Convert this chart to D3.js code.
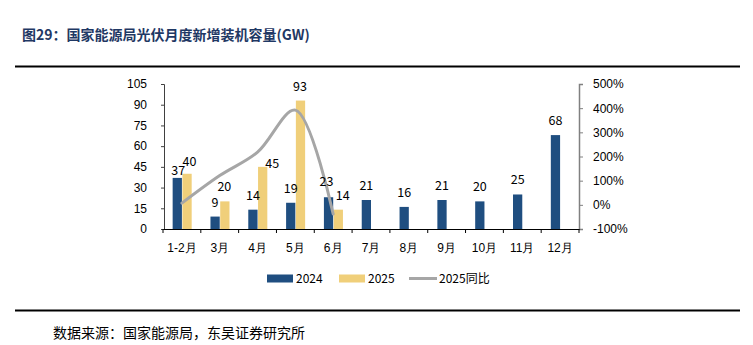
<!DOCTYPE html>
<html>
<head>
<meta charset="utf-8">
<script src="https://cdn.jsdelivr.net/npm/d3@7"></script>
<style>
  body { margin: 0; background: #fff; }
  svg { display: block; font-family: "Noto Sans CJK SC", "Noto Sans", sans-serif; }
</style>
</head>
<body>
<div id="chart"></div>
<script>
// data
const months = ["1-2月", "3月", "4月", "5月", "6月", "7月", "8月", "9月", "10月", "11月", "12月"];
const values2024 = [37, 9, 14, 19, 23, 21, 16, 21, 20, 25, 68];
const values2025 = [40, 20, 45, 93, 14];
const yoy2025 = [7, 121, 218, 392, -38];
const leftTicks = [0, 15, 30, 45, 60, 75, 90, 105];
const rightTicks = [-100, 0, 100, 200, 300, 400, 500];

const width = 753, height = 345;
const blue = "#1f4e80", yellow = "#f0cf7a", grey = "#a6a6a6";

const svg = d3.select("#chart").append("svg")
    .attr("width", width)
    .attr("height", height);

svg.append("rect").attr("width", width).attr("height", height).attr("fill", "#fff");

// title and frame lines
svg.append("text")
    .attr("x", 22).attr("y", 40)
    .attr("font-size", 14).attr("font-weight", "bold")
    .attr("fill", "#1f3864")
    .text("图29：国家能源局光伏月度新增装机容量(GW)");

svg.append("line").attr("x1", 15).attr("x2", 740).attr("y1", 66.5).attr("y2", 66.5)
    .attr("stroke", "#000").attr("stroke-width", 2);
svg.append("line").attr("x1", 15).attr("x2", 740).attr("y1", 310.5).attr("y2", 310.5)
    .attr("stroke", "#000").attr("stroke-width", 2);

svg.append("text")
    .attr("x", 53).attr("y", 338)
    .attr("font-size", 14).attr("fill", "#000")
    .text("数据来源：国家能源局，东吴证券研究所");

// scales
const x = d3.scaleBand().domain(months).range([163, 579]);
const yL = d3.scaleLinear().domain([0, 105]).range([229, 84]);
const yR = d3.scaleLinear().domain([-100, 500]).range([229, 84]);
const bw = x.bandwidth() * 0.245;
const cx = m => x(m) + x.bandwidth() / 2;

// axes
const gLeft = svg.append("g").attr("transform", "translate(164,0)")
    .call(d3.axisLeft(yL).tickValues(leftTicks).tickSize(3).tickPadding(14));
gLeft.select(".domain").attr("stroke", "#404040");
gLeft.selectAll(".tick line").attr("stroke", "#404040");
gLeft.selectAll("text").attr("font-size", 12).attr("fill", "#000").attr("font-family", null);

const gRight = svg.append("g").attr("transform", "translate(579,0)")
    .call(d3.axisRight(yR).tickValues(rightTicks).tickSize(4).tickPadding(10)
        .tickFormat(d => d + "%"));
gRight.select(".domain").attr("stroke", "#808080").attr("stroke-width", 1.5);
gRight.selectAll(".tick line").attr("stroke", "#808080");
gRight.selectAll("text").attr("font-size", 12).attr("fill", "#000").attr("font-family", null);

// bars
const bars = svg.append("g");
bars.selectAll(".b24").data(values2024).join("rect")
    .attr("x", (d, i) => cx(months[i]) - bw)
    .attr("y", d => yL(d))
    .attr("width", bw)
    .attr("height", d => yL(0) - yL(d))
    .attr("fill", blue);
bars.selectAll(".b25").data(values2025).join("rect")
    .attr("x", (d, i) => cx(months[i]) + 0.5)
    .attr("y", d => yL(d))
    .attr("width", bw)
    .attr("height", d => yL(0) - yL(d))
    .attr("fill", yellow);

// bottom axis drawn over bars
const gBottom = svg.append("g").attr("transform", "translate(0,229)")
    .call(d3.axisBottom(x).tickSize(0).tickPadding(14));
gBottom.select(".domain").attr("stroke", "#000");
gBottom.selectAll("text").attr("font-size", 12).attr("fill", "#000").attr("font-family", null);
gBottom.selectAll(".sep").data(d3.range(months.length + 1)).join("line")
    .attr("x1", i => 163 + i * x.step()).attr("x2", i => 163 + i * x.step())
    .attr("y1", 0).attr("y2", 4)
    .attr("stroke", "#000");

// YoY line
const line = d3.line()
    .x((d, i) => cx(months[i]))
    .y(d => yR(d))
    .curve(d3.curveCatmullRom.alpha(0.5));
svg.append("path")
    .datum(yoy2025)
    .attr("fill", "none")
    .attr("stroke", grey)
    .attr("stroke-width", 3)
    .attr("stroke-linecap", "round")
    .attr("d", line);

// value labels (a few moved as in the original)
const nudge = { "a0": [1, 7], "b0": [3, 2], "b2": [10, 11], "a4": [-2, -1], "b4": [5, 0] };
const labels = svg.append("g").attr("font-size", 12.5).attr("fill", "#000").attr("text-anchor", "middle");
values2024.forEach((v, i) => {
    const n = nudge["a" + i] || [0, 0];
    labels.append("text")
        .attr("x", cx(months[i]) - bw / 2 + n[0])
        .attr("y", yL(v) - 10 + n[1])
        .text(v);
});
values2025.forEach((v, i) => {
    const n = nudge["b" + i] || [0, 0];
    labels.append("text")
        .attr("x", cx(months[i]) + bw / 2 + n[0])
        .attr("y", yL(v) - 10 + n[1])
        .text(v);
});

// legend
const lg = svg.append("g").attr("font-size", 12).attr("fill", "#000");
lg.append("rect").attr("x", 267).attr("y", 274.5).attr("width", 26).attr("height", 8).attr("fill", blue);
lg.append("text").attr("x", 296).attr("y", 283).text("2024");
lg.append("rect").attr("x", 339).attr("y", 274.5).attr("width", 26).attr("height", 8).attr("fill", yellow);
lg.append("text").attr("x", 368).attr("y", 283).text("2025");
lg.append("line").attr("x1", 409).attr("x2", 437).attr("y1", 278.5).attr("y2", 278.5)
    .attr("stroke", grey).attr("stroke-width", 3);
lg.append("text").attr("x", 439).attr("y", 283).text("2025同比");
</script>
</body>
</html>
